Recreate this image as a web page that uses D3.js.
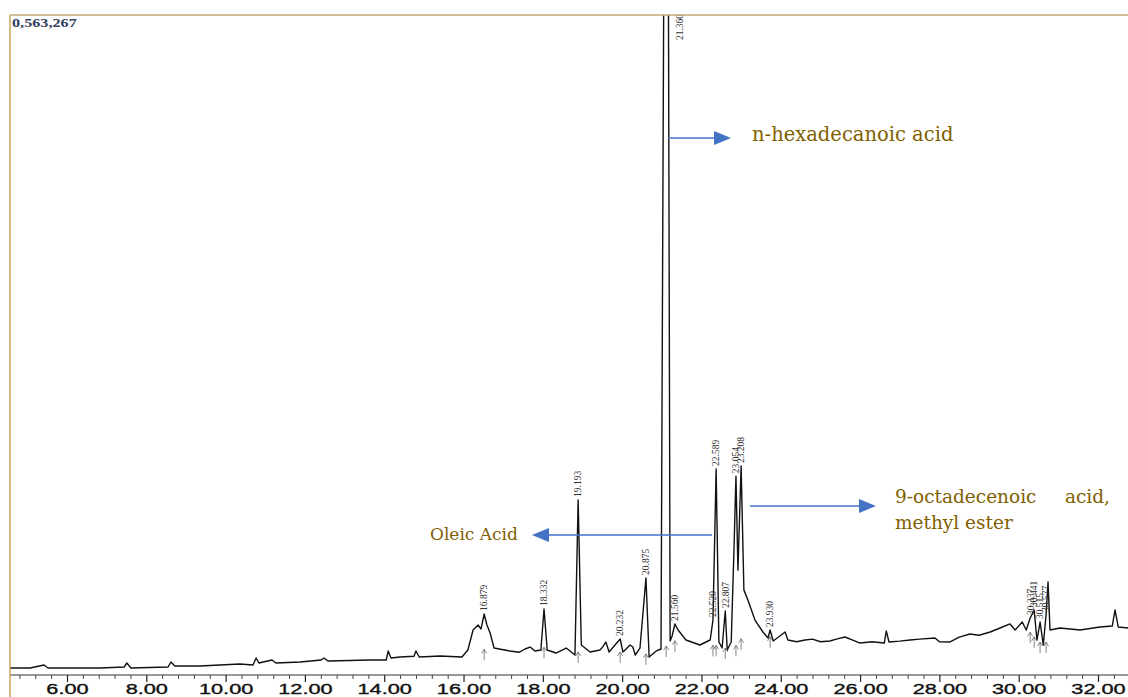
<!DOCTYPE html>
<html>
<head>
<meta charset="utf-8">
<script src="https://cdn.jsdelivr.net/npm/d3@7.9.0/dist/d3.min.js"></script>
<style>
  html, body { margin: 0; padding: 0; background: #fff; }
  svg { display: block; }
</style>
</head>
<body>
<svg id="chart" width="1128" height="697"></svg>
<script>
// chromatogram trace: retention time on the axis (min) and intensity (% of full scale)
const traceTime = [4.56, 5.07, 5.42, 5.52, 6.83, 7.44, 7.51, 7.61, 8.55, 8.62, 8.72, 9.35, 10.36, 10.69, 10.77, 10.84,
  11.17, 11.27, 11.88, 12.41, 12.48, 12.58, 13.64, 14.05, 14.10, 14.17, 14.40, 14.75, 14.80, 14.88, 15.41, 15.96,
  16.11, 16.24, 16.37, 16.44, 16.52, 16.59, 16.67, 16.77, 17.17, 17.40, 17.55, 17.68, 17.80, 17.95, 18.03, 18.11,
  18.33, 18.59, 18.81, 18.89, 18.97, 19.19, 19.44, 19.52, 19.59, 19.67, 19.82, 19.95, 20.02, 20.10, 20.20, 20.27,
  20.33, 20.45, 20.60, 20.68, 20.86, 20.98, 21.06, 21.16, 21.21, 21.26, 21.33, 21.41, 21.61, 21.96, 22.22, 22.29,
  22.37, 22.44, 22.52, 22.60, 22.65, 22.75, 22.82, 22.87, 22.92, 23.00, 23.07, 23.17, 23.35, 23.55, 23.68, 23.73,
  23.81, 24.11, 24.18, 24.40, 24.61, 24.80, 25.00, 25.24, 25.40, 25.62, 25.80, 26.00, 26.30, 26.61, 26.66, 26.73,
  27.00, 27.26, 27.50, 27.89, 28.00, 28.27, 28.50, 28.77, 29.00, 29.28, 29.53, 29.78, 29.91, 30.09, 30.19, 30.29,
  30.39, 30.46, 30.54, 30.62, 30.69, 30.74, 30.79, 31.04, 31.55, 32.05, 32.36, 32.43, 32.51, 32.76];
const traceIntensity = [0.61, 0.61, 1.07, 0.61, 0.61, 0.76, 1.37, 0.61, 0.76, 1.52, 0.91, 0.91, 1.22, 1.07, 2.13, 1.37,
  1.83, 1.37, 1.52, 1.83, 2.13, 1.67, 1.83, 1.83, 3.20, 2.13, 2.28, 2.40, 3.20, 2.28, 2.44, 2.28,
  3.35, 6.39, 7.15, 6.54, 8.83, 7.15, 5.94, 3.65, 3.20, 3.00, 3.50, 3.80, 3.20, 3.35, 9.59, 3.35,
  2.89, 3.65, 2.59, 26.18, 4.11, 3.04, 3.35, 3.90, 4.57, 3.04, 4.11, 5.02, 3.04, 3.50, 4.11, 3.80,
  2.59, 3.65, 14.31, 2.28, 3.20, 3.50, 120, 120, 4.72, 5.48, 7.31, 6.39, 4.87, 4.11, 4.87, 7.91,
  30.9, 4.57, 3.65, 9.28, 3.35, 4.57, 18.6, 29.8, 15.5, 31.35, 12.5, 10.96, 7.91, 6.09, 5.18, 6.39,
  4.72, 6.09, 4.87, 4.60, 4.87, 5.00, 4.60, 4.72, 5.00, 5.33, 4.90, 4.41, 4.60, 4.41, 6.24, 4.57,
  4.70, 4.87, 5.00, 5.18, 4.60, 4.57, 5.30, 5.78, 5.60, 6.09, 6.70, 7.31, 6.39, 7.61, 6.39, 8.22,
  9.44, 4.87, 7.61, 4.11, 8.68, 13.7, 6.39, 6.70, 6.39, 6.85, 7.00, 9.44, 6.85, 6.70];

// labelled peaks
const peakTimes = [16.52, 18.03, 18.89, 19.95, 20.60, 21.11, 21.33, 22.29, 22.37, 22.60, 22.87, 23.00, 23.73,
  30.29, 30.39, 30.54, 30.69];
const peakHeights = [8.83, 9.59, 26.18, 5.02, 14.31, 120, 7.31, 7.91, 30.9, 9.28, 29.8, 31.35, 6.39,
  8.22, 9.44, 7.61, 8.68];
const peakBases = [3.0, 3.3, 2.6, 2.6, 2.3, 3.5, 4.3, 3.6, 3.6, 3.2, 3.6, 4.6, 4.9,
  5.6, 4.9, 4.1, 4.1];
const peakLabels = ['16.879', '18.332', '19.193', '20.232', '20.875', '21.360', '21.560', '22.520', '22.589',
  '22.807', '23.054', '23.208', '23.930', '30.337', '30.441', '30.515', '30.577'];

const majorTicks = [6, 8, 10, 12, 14, 16, 18, 20, 22, 24, 26, 28, 30, 32];
const fullScaleLabel = '0,563,267';

const W = 1128, H = 697;
const frameLeft = 10, frameTop = 15, axisY = 675;

const x = d3.scaleLinear().domain([6, 32]).range([67, 1098]);
const y = d3.scaleLinear().domain([0, 100]).range([672, frameTop]);

const svg = d3.select('#chart');

svg.append('defs').append('clipPath').attr('id', 'plot-clip')
  .append('rect')
  .attr('x', frameLeft).attr('y', frameTop)
  .attr('width', W - frameLeft).attr('height', H - frameTop);

// x axis
const axisG = svg.append('g').attr('transform', `translate(0,${axisY})`);
axisG.append('line')
  .attr('x1', frameLeft).attr('x2', W)
  .attr('stroke', '#333').attr('stroke-width', 1);

let minorTicks = d3.range(4.8, 32.8, 0.4).filter(v => Math.abs(v / 2 - Math.round(v / 2)) > 0.01);
axisG.append('g')
  .call(d3.axisBottom(x).tickValues(minorTicks).tickSize(4).tickFormat(''))
  .call(g => g.select('.domain').remove())
  .call(g => g.selectAll('line').attr('stroke', '#444'));

axisG.append('g')
  .call(d3.axisBottom(x).tickValues(majorTicks).tickSize(7).tickFormat(d3.format('.2f')))
  .call(g => g.select('.domain').remove())
  .call(g => g.selectAll('line').attr('stroke', '#222').attr('stroke-width', 1.2))
  .call(g => g.selectAll('text')
    .attr('y', 19).attr('dy', 0)
    .attr('fill', '#111')
    .attr('stroke', '#111')
    .attr('stroke-width', 0.35)
    .attr('font-family', 'Liberation Sans, Arial, sans-serif')
    .attr('font-size', 14.5)
    .attr('transform', 'scale(1.5,1)'));

// trace
const plot = svg.append('g').attr('clip-path', 'url(#plot-clip)');
const traceData = traceTime.map((t, i) => [t, traceIntensity[i]]);

plot.append('path')
  .datum(traceData)
  .attr('fill', 'none')
  .attr('stroke', '#111')
  .attr('stroke-width', 1.4)
  .attr('stroke-linejoin', 'round')
  .attr('d', d3.line().x(d => x(d[0])).y(d => y(d[1])));

// peak labels and integration markers
const peaks = peakTimes.map((t, i) => ({ t, h: peakHeights[i], base: peakBases[i], label: peakLabels[i] }));

plot.selectAll('.marker')
  .data(peaks)
  .enter()
  .append('path')
  .attr('class', 'marker')
  .attr('fill', 'none')
  .attr('stroke', '#555')
  .attr('stroke-width', 0.7)
  .attr('d', d => {
    let px = x(d.t), py = y(d.base);
    return `M${px},${py - 3}V${py + 8}M${px - 2.5},${py + 1}L${px},${py - 3}L${px + 2.5},${py + 1}`;
  });

plot.selectAll('.peak-label')
  .data(peaks)
  .enter()
  .append('text')
  .attr('class', 'peak-label')
  .attr('transform', d => {
    // off-scale peak: label sits at the top, beside the line
    if (d.h > 100) return `translate(${x(d.t) + 14},${y(100) + 25}) rotate(-90)`;
    return `translate(${x(d.t)},${y(d.h) - 3}) rotate(-90)`;
  })
  .attr('dy', '0.35em')
  .attr('font-family', 'Liberation Serif, Times New Roman, serif')
  .attr('font-size', 9.5)
  .attr('fill', '#333')
  .text(d => d.label);

// frame
svg.append('line')
  .attr('x1', frameLeft).attr('x2', W).attr('y1', frameTop).attr('y2', frameTop)
  .attr('stroke', '#bfa873').attr('stroke-width', 1.5);
svg.append('line')
  .attr('x1', frameLeft).attr('x2', frameLeft).attr('y1', frameTop).attr('y2', H)
  .attr('stroke', '#c4a45a').attr('stroke-width', 1.5);

svg.append('text')
  .attr('transform', `translate(${frameLeft + 2},${frameTop + 12}) scale(1.2,1)`)
  .attr('font-family', 'Liberation Serif, Times New Roman, serif')
  .attr('font-size', 13.5)
  .attr('font-weight', 'bold')
  .attr('fill', '#34405e')
  .text(fullScaleLabel);

// annotations
const arrowColor = '#4472C4';
const noteColor = '#7F6000';

function arrow(x1, x2, yy) {
  let dir = x2 > x1 ? 1 : -1;
  let baseX = x2 - dir * 17;
  svg.append('line')
    .attr('x1', x1).attr('x2', baseX).attr('y1', yy).attr('y2', yy)
    .attr('stroke', arrowColor).attr('stroke-width', 1.5);
  svg.append('path')
    .attr('d', `M${x2},${yy}L${baseX},${yy - 7}L${baseX},${yy + 7}Z`)
    .attr('fill', arrowColor);
}

function note(tx, ty, str, size, anchor) {
  svg.append('text')
    .attr('x', tx).attr('y', ty)
    .attr('text-anchor', anchor || 'start')
    .attr('font-family', 'DejaVu Serif, serif')
    .attr('font-size', size)
    .attr('fill', noteColor)
    .text(str);
}

arrow(668, 731, 138);
note(752, 141, 'n-hexadecanoic acid', 19.5);

arrow(712, 532, 535);
note(430, 540, 'Oleic Acid', 17);

arrow(750, 876, 506);
note(895, 503, '9-octadecenoic', 18.5);
note(1110, 503, 'acid,', 18.5, 'end');
note(895, 529, 'methyl ester', 18.5);
</script>
</body>
</html>
